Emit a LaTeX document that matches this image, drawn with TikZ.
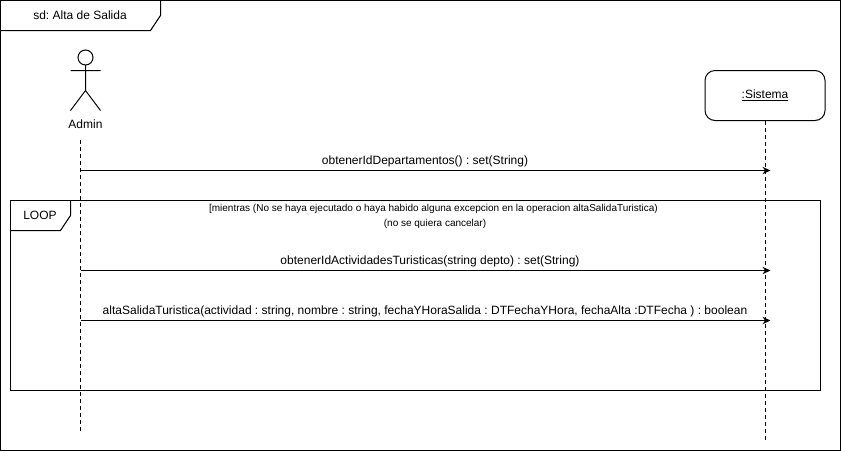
\documentclass[tikz,border=0pt]{standalone}
\usepackage{fontspec}
\setmainfont{Liberation Sans}
\usetikzlibrary{arrows.meta}
\tikzset{
  frameline/.style={draw=black,line width=0.75pt},
  lifeline/.style={draw=black,line width=0.75pt,dash pattern=on 3pt off 2.25pt},
  msg/.style={draw=black,line width=0.75pt,-{Stealth[length=6pt,width=5.5pt]}},
  lbl/.style={inner sep=0pt,font=\fontsize{9}{11}\selectfont\frenchspacing,text=black},
  small/.style={inner sep=0pt,font=\fontsize{7.5}{9}\selectfont\frenchspacing,text=black},
}
\begin{document}
\begin{tikzpicture}[x=0.75pt,y=-0.75pt]
\useasboundingbox (0,0) rectangle (841,451);
% outer frame
\draw[frameline] (0.5,0.5) rectangle (840.5,450.5);
\draw[frameline] (0.5,30.5) -- (150.5,30.5) -- (160.5,15.5) -- (160.5,0.5);
\node[lbl] (title) at (80,15) {sd: Alta de Salida};
% actor
\draw[frameline] (85.5,57.5) circle (7.5);
\draw[frameline] (85.5,65) -- (85.5,90.5) (70.5,70.5) -- (100.5,70.5) (70.5,110.5) -- (85.5,90.5) -- (100.5,110.5);
\node[lbl] (admin) at (85.5,124.5) {Admin};
% system
\node[draw=black,line width=0.75pt,rounded corners=7.5pt,minimum width=90pt,minimum height=37.5pt,inner sep=0pt,
      font=\fontsize{9}{11}\selectfont] (sys) at (765,95.5) {\underline{:Sistema}};
% lifelines
\coordinate (aTop) at (80.5,140);
\coordinate (aBot) at (80.5,431);
\coordinate (sBot) at (765,441);
\draw[lifeline] (aTop) -- (aBot);
\draw[lifeline] (sys.south) -- (sBot);
% loop frame
\draw[frameline] (10.5,200.5) rectangle (820.5,390.5);
\draw[frameline] (10.5,230.5) -- (60.5,230.5) -- (70.5,215.5) -- (70.5,200.5);
\node[lbl] (loop) at (40,215) {LOOP};
\node[small] (g1) at (433.5,209) {[mientras (No se haya ejecutado o haya habido alguna excepcion en la operacion altaSalidaTuristica)};
\node[small] (g2) at (435,224) {(no se quiera cancelar)};
% messages
\coordinate (a1) at (80.5,170.5); \coordinate (s1) at (770.5,170.5);
\coordinate (a2) at (80.5,270.5); \coordinate (s2) at (770.5,270.5);
\coordinate (a3) at (80.5,320.5); \coordinate (s3) at (770.5,320.5);
\draw[msg] (a1) -- (s1);
\draw[msg] (a2) -- (s2);
\draw[msg] (a3) -- (s3);
\node[lbl] (m1) at (425,161) {obtenerIdDepartamentos() : set(String)};
\node[lbl] (m2) at (430,261) {obtenerIdActividadesTuristicas(string depto) : set(String)};
\node[lbl] (m3) at (425,311) {altaSalidaTuristica(actividad : string, nombre : string, fechaYHoraSalida : DTFechaYHora, fechaAlta :DTFecha ) : boolean};
\end{tikzpicture}
\end{document}
